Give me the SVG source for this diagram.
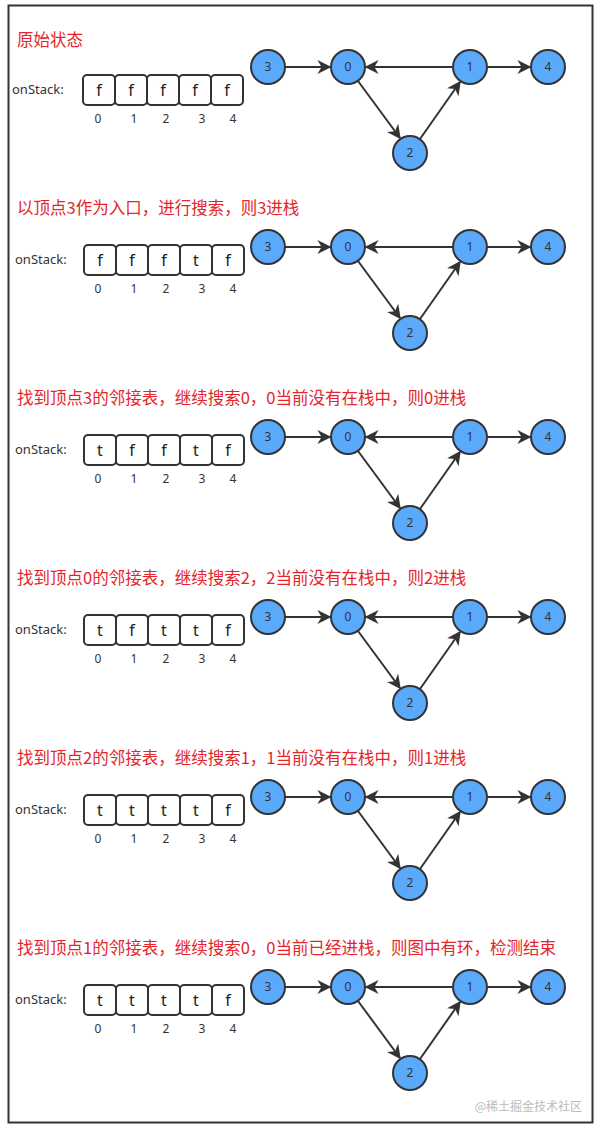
<svg xmlns="http://www.w3.org/2000/svg" width="601" height="1133" viewBox="0 0 601 1133">
<style>
.t{font-family:"Noto Sans CJK SC","Noto Sans",sans-serif;font-size:16.5px;fill:#e5252a}
.l{font-family:"Noto Sans","DejaVu Sans",sans-serif;font-size:13px;fill:#333}
.c{fill:#fff;stroke:#333;stroke-width:2}
.v{font-family:"Noto Sans","DejaVu Sans",sans-serif;font-size:16px;fill:#222;text-anchor:middle}
.i{font-family:"Noto Sans","DejaVu Sans",sans-serif;font-size:12px;fill:#333;text-anchor:middle}
.n{fill:#5aa9fb;stroke:#333;stroke-width:2}
.nt{font-family:"Noto Sans","DejaVu Sans",sans-serif;font-size:12px;fill:#333;text-anchor:middle}
.e{stroke:#333;stroke-width:2;fill:none;marker-end:url(#b)}
</style>
<defs>
<marker id="b" viewBox="0 0 10 10" refX="9" refY="5" markerWidth="7" markerHeight="7" orient="auto"><path d="M0,0L10,5L0,10L3,5z" fill="#333"/></marker>
<g id="graph">
<g id="conn">
<line class="e" x1="285" y1="67" x2="330" y2="67"/>
<line class="e" x1="453" y1="67" x2="366" y2="67"/>
<line class="e" x1="487" y1="67" x2="530" y2="67"/>
<line class="e" x1="358" y1="81" x2="400" y2="138"/>
<line class="e" x1="420" y1="139" x2="460" y2="82"/>
</g>
<g id="n3"><circle class="n" cx="268" cy="67" r="17"/><text class="nt" x="268" y="71">3</text></g>
<g id="n0"><circle class="n" cx="348" cy="67" r="17"/><text class="nt" x="348" y="71">0</text></g>
<g id="n1"><circle class="n" cx="470" cy="67" r="17"/><text class="nt" x="470" y="71">1</text></g>
<g id="n4"><circle class="n" cx="548" cy="67" r="17"/><text class="nt" x="548" y="71">4</text></g>
<g id="n2"><circle class="n" cx="410" cy="153" r="17"/><text class="nt" x="410" y="157">2</text></g>
</g>
<g id="idx">
<text class="i" x="98" y="0">0</text><text class="i" x="134" y="0">1</text><text class="i" x="166" y="0">2</text><text class="i" x="202" y="0">3</text><text class="i" x="233" y="0">4</text>
</g>
</defs>
<rect x="0" y="0" width="601" height="1133" fill="#fff"/>
<rect x="8.5" y="5.5" width="584" height="1117" fill="none" stroke="#333" stroke-width="2"/>

<text class="t" x="17" y="46">原始状态</text>
<text class="t" x="17" y="214">以顶点3作为入口，进行搜索，则3进栈</text>
<text class="t" x="17" y="404">找到顶点3的邻接表，继续搜索0，0当前没有在栈中，则0进栈</text>
<text class="t" x="17" y="584">找到顶点0的邻接表，继续搜索2，2当前没有在栈中，则2进栈</text>
<text class="t" x="17" y="764">找到顶点2的邻接表，继续搜索1，1当前没有在栈中，则1进栈</text>
<text class="t" x="17" y="954">找到顶点1的邻接表，继续搜索0，0当前已经进栈，则图中有环，检测结束</text>

<use href="#graph"/>
<use href="#graph" y="180"/>
<use href="#graph" y="370"/>
<use href="#graph" y="550"/>
<use href="#graph" y="730"/>
<use href="#graph" y="920"/>

<g id="arr1">
<text class="l" x="12" y="94">onStack:</text>
<rect class="c" x="83" y="75" width="32" height="30" rx="4"/><rect class="c" x="115" y="75" width="32" height="30" rx="4"/><rect class="c" x="147" y="75" width="32" height="30" rx="4"/><rect class="c" x="179" y="75" width="32" height="30" rx="4"/><rect class="c" x="211" y="75" width="32" height="30" rx="4"/>
<text class="v" x="99" y="96">f</text><text class="v" x="131" y="96">f</text><text class="v" x="163" y="96">f</text><text class="v" x="195" y="96">f</text><text class="v" x="227" y="96">f</text>
<use href="#idx" y="123"/>
</g>
<g id="arr2">
<text class="l" x="15" y="264">onStack:</text>
<rect class="c" x="84" y="245" width="32" height="30" rx="4"/><rect class="c" x="116" y="245" width="32" height="30" rx="4"/><rect class="c" x="148" y="245" width="32" height="30" rx="4"/><rect class="c" x="180" y="245" width="32" height="30" rx="4"/><rect class="c" x="212" y="245" width="32" height="30" rx="4"/>
<text class="v" x="100" y="266">f</text><text class="v" x="132" y="266">f</text><text class="v" x="164" y="266">f</text><text class="v" x="196" y="266">t</text><text class="v" x="228" y="266">f</text>
<use href="#idx" y="293"/>
</g>
<g id="arr3">
<text class="l" x="15" y="454">onStack:</text>
<rect class="c" x="84" y="435" width="32" height="30" rx="4"/><rect class="c" x="116" y="435" width="32" height="30" rx="4"/><rect class="c" x="148" y="435" width="32" height="30" rx="4"/><rect class="c" x="180" y="435" width="32" height="30" rx="4"/><rect class="c" x="212" y="435" width="32" height="30" rx="4"/>
<text class="v" x="100" y="456">t</text><text class="v" x="132" y="456">f</text><text class="v" x="164" y="456">f</text><text class="v" x="196" y="456">t</text><text class="v" x="228" y="456">f</text>
<use href="#idx" y="483"/>
</g>
<g id="arr4">
<text class="l" x="15" y="634">onStack:</text>
<rect class="c" x="84" y="615" width="32" height="30" rx="4"/><rect class="c" x="116" y="615" width="32" height="30" rx="4"/><rect class="c" x="148" y="615" width="32" height="30" rx="4"/><rect class="c" x="180" y="615" width="32" height="30" rx="4"/><rect class="c" x="212" y="615" width="32" height="30" rx="4"/>
<text class="v" x="100" y="636">t</text><text class="v" x="132" y="636">f</text><text class="v" x="164" y="636">t</text><text class="v" x="196" y="636">t</text><text class="v" x="228" y="636">f</text>
<use href="#idx" y="663"/>
</g>
<g id="arr5">
<text class="l" x="15" y="814">onStack:</text>
<rect class="c" x="84" y="795" width="32" height="30" rx="4"/><rect class="c" x="116" y="795" width="32" height="30" rx="4"/><rect class="c" x="148" y="795" width="32" height="30" rx="4"/><rect class="c" x="180" y="795" width="32" height="30" rx="4"/><rect class="c" x="212" y="795" width="32" height="30" rx="4"/>
<text class="v" x="100" y="816">t</text><text class="v" x="132" y="816">t</text><text class="v" x="164" y="816">t</text><text class="v" x="196" y="816">t</text><text class="v" x="228" y="816">f</text>
<use href="#idx" y="843"/>
</g>
<g id="arr6">
<text class="l" x="15" y="1004">onStack:</text>
<rect class="c" x="84" y="985" width="32" height="30" rx="4"/><rect class="c" x="116" y="985" width="32" height="30" rx="4"/><rect class="c" x="148" y="985" width="32" height="30" rx="4"/><rect class="c" x="180" y="985" width="32" height="30" rx="4"/><rect class="c" x="212" y="985" width="32" height="30" rx="4"/>
<text class="v" x="100" y="1006">t</text><text class="v" x="132" y="1006">t</text><text class="v" x="164" y="1006">t</text><text class="v" x="196" y="1006">t</text><text class="v" x="228" y="1006">f</text>
<use href="#idx" y="1033"/>
</g>
<text x="582" y="1111" text-anchor="end" style="font-family:'Noto Sans CJK SC',sans-serif;font-size:12px;fill:#bbb">@稀土掘金技术社区</text>
</svg>
